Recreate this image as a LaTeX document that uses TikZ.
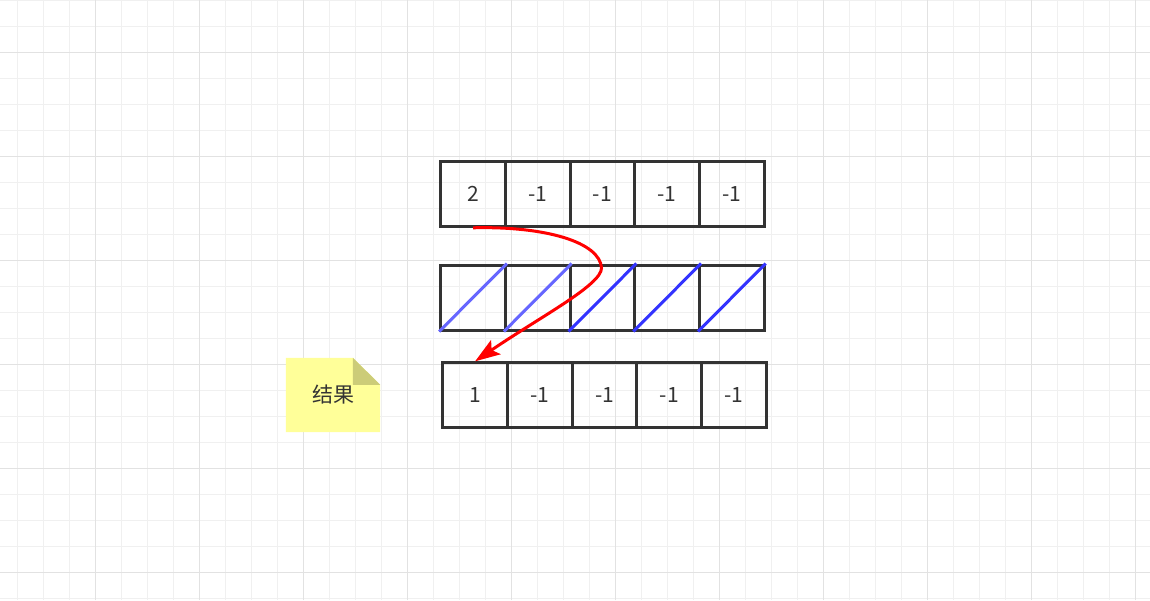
\documentclass[tikz,border=0pt]{standalone}
\usepackage{fontspec}
\setmainfont{Noto Sans CJK SC}
\usetikzlibrary{calc,arrows.meta,positioning}

\definecolor{gridminor}{HTML}{F0F0F0}
\definecolor{gridmajor}{HTML}{E2E2E2}
\definecolor{cellgray}{HTML}{333333}
\definecolor{lightblue}{HTML}{6666FF}
\definecolor{darkblue}{HTML}{3333FF}
\definecolor{noteyellow}{HTML}{FFFF99}
\definecolor{notefold}{HTML}{CCCC78}

\begin{document}
\begin{tikzpicture}[x=1pt, y=-1pt,
   cell/.style={draw=cellgray, line width=3pt, minimum width=64.7pt, minimum height=65pt,
                inner sep=0pt, text=cellgray, font=\fontsize{21}{25}\selectfont},
   slashlight/.style={lightblue, line width=3pt},
   slashdark/.style={darkblue, line width=3pt},
   flow/.style={red, line width=3pt, -{Stealth[length=25pt,width=17pt,inset=5pt]}},
   notebox/.style={minimum width=94pt, minimum height=74pt, inner sep=0pt,
                   text=cellgray, font=\fontsize{21}{25}\selectfont}]

   \useasboundingbox (0,0) rectangle (1150,600);
   \fill[white] (0,0) rectangle (1150,600);

   %background grid
   \begin{scope}[shift={(17.3,0)}]
      \draw[gridminor, line width=1pt] (-17.3,0) grid[step=26pt] (1132.7,600);
   \end{scope}
   \begin{scope}[shift={(-8.7,52)}]
      \draw[gridmajor, line width=1pt] (8.7,-52) grid[step=104pt] (1158.7,548);
   \end{scope}

   %input row
   \node[cell] (t0) at (473.05,193.8) {2};
   \node[cell] (t1) at (537.75,193.8) {-1};
   \node[cell] (t2) at (602.45,193.8) {-1};
   \node[cell] (t3) at (667.15,193.8) {-1};
   \node[cell] (t4) at (731.85,193.8) {-1};

   %middle row
   \node[cell] (m0) at (473.05,297.5) {};
   \node[cell] (m1) at (537.75,297.5) {};
   \node[cell] (m2) at (602.45,297.5) {};
   \node[cell] (m3) at (667.15,297.5) {};
   \node[cell] (m4) at (731.85,297.5) {};

   %result row
   \node[cell] (b0) at (475.1,395.3) {1};
   \node[cell] (b1) at (539.8,395.3) {-1};
   \node[cell] (b2) at (604.5,395.3) {-1};
   \node[cell] (b3) at (669.2,395.3) {-1};
   \node[cell] (b4) at (733.9,395.3) {-1};

   %note
   \node[notebox] (res) at (333,395) {};
   \fill[noteyellow] (res.north west) -- ($(res.north east)+(-27.3,0)$)
        -- ($(res.north east)+(0,27)$) -- (res.south east) -- (res.south west) -- cycle;
   \fill[notefold] ($(res.north east)+(-27.3,0)$) -- ($(res.north east)+(0,27)$)
        -- ($(res.north east)+(-27.3,27)$) -- cycle;
   \node[notebox] at (res.center) {结果};

   \draw[slashlight] (m0.south west) -- (m0.north east);
   \draw[slashlight] (m1.south west) -- (m1.north east);
   \draw[slashdark] (m2.south west) -- (m2.north east);
   \draw[slashdark] (m3.south west) -- (m3.north east);
   \draw[slashdark] (m4.south west) -- (m4.north east);

   \coordinate (turn) at (601.5,268);
   \draw[flow] (t0.south) .. controls (545,226) and (600,242) .. (turn)
               .. controls (601.5,285) and (540,317) .. (b0.north);
\end{tikzpicture}
\end{document}
